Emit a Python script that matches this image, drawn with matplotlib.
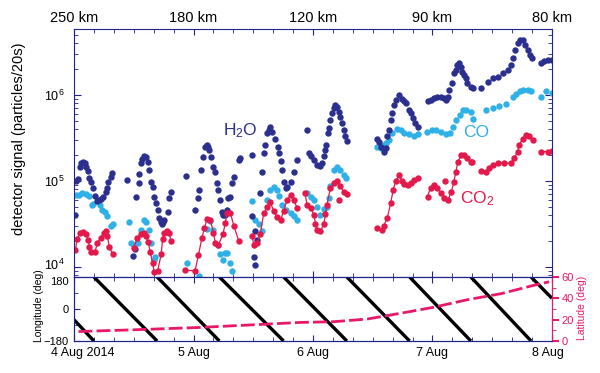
import numpy as np
import matplotlib
matplotlib.use('Agg')
import matplotlib.pyplot as plt
import matplotlib.transforms as mtransforms
from matplotlib.ticker import FixedLocator, MultipleLocator, LogLocator, NullFormatter

plt.rcParams['font.family'] = 'Liberation Sans'
plt.rcParams['mathtext.fontset'] = 'custom'
plt.rcParams['mathtext.rm'] = 'Liberation Sans'
plt.rcParams['mathtext.it'] = 'Liberation Sans'
plt.rcParams['mathtext.default'] = 'regular'

nan = np.nan

# time axis in hours after 4 Aug 2014 00:00
day_ticks = [0, 24, 48, 72, 96]
day_labels = ['4 Aug 2014', '5 Aug', '6 Aug', '7 Aug', '8 Aug']
dist_labels = ['250 km', '180 km', '120 km', '90 km', '80 km']

# H2O (particles/20s)
h2o_hours = [0.3, 0.5, 0.9, 1.2, 1.5, 1.9, 2.2, 2.5, 2.9, 3.1, 3.5, 3.8, 4.2, 4.6, 5.0, 5.5, 5.9, 6.4, 6.7, 6.9, 7.4, 7.7,
             10.7, 11.9, 12.2, 12.4, 13.0, 13.1, 13.4, 13.75, 14.1, 14.4, 14.8, 15.1, 15.4, 15.8, 16.1, 16.4, 16.8, 17.1,
             17.4, 17.6, 17.9, 18.1, 18.8, 19.1, 19.5,
             22.5, 24.4, 25.0, 25.2, 25.5, 26.0, 26.4, 26.7, 27.0, 27.2, 27.5, 28.0, 28.4, 28.7, 29.0, 29.4, 29.7, 30.0,
             30.4, 30.7, 31.0, 31.4, 31.7, 32.1, 33.1, 33.4,
             35.8, 35.8, 36.1, 36.3, 36.4, 36.7, 37.4, 37.8, 38.1, 38.4, 38.8, 39.1, 39.4, 39.8, 40.4, 40.9, 41.1, 41.5,
             41.8, 42.1, 42.5, 42.8, 43.5, 44.1, 44.7,
             46.8, 47.2, 47.5, 48.2, 48.8, 49.5, 49.8, 50.2, 50.5, 50.7, 51.0, 51.2, 51.5, 51.9, 52.2, 52.5, 52.9, 53.2,
             53.5, 53.9, 54.2, 54.5, 54.9,
             60.9, 61.2, 61.6, 62.2, 62.6, 62.9, 63.3, 63.6, 63.9, 64.3, 64.6, 65.3, 65.9, 66.3, 66.6, 67.2, 67.6, 68.1,
             68.5, 69.0,
             71.0, 71.6, 72.3, 73.0, 73.7, 74.3, 74.8, 75.2, 75.3, 75.9, 76.3, 76.7, 77.0, 77.3, 77.7, 78.0, 78.3, 78.7,
             79.0, 79.7, 80.2,
             81.7, 83.1, 84.1, 85.1, 86.1, 87.1, 87.8, 88.2, 88.6, 89.1, 89.6, 90.1, 90.6, 91.1, 91.6, 92.0, 93.8, 94.4,
             95.1, 96.0]
h2o_signal = [4.0e4, 1.0e5, 1.05e5, 1.47e5, 1.6e5, 1.65e5, 1.6e5, 1.47e5, 1.3e5, 1.07e5, 9.8e4, 8.2e4, 6.7e4, 5.8e4,
              6.0e4, 6.2e4, 6.5e4, 7.5e4, 8.2e4, 9.8e4, 1.12e5, 1.23e5,
              1.03e5, 1.34e4, 1.6e4, 6.6e4, 9.6e4, 1.2e5, 1.6e5, 1.82e5, 1.94e5, 1.9e5, 1.68e5, 1.35e5, 9.8e4, 8.6e4,
              6.6e4, 5.5e4, 4.6e4, 3.7e4, 3.3e4, 3.2e4, 3.3e4, 3.5e4, 4.4e4, 6.3e4, 7.5e4,
              1.15e5, 4.6e4, 6.3e4, 7.9e4, 1.34e5, 1.9e5, 2.5e5, 2.62e5, 2.5e5, 2.29e5, 1.9e5, 1.46e5, 1.28e5, 9.4e4,
              7.9e4, 6.0e4, 4.4e4, 4.0e4, 4.0e4, 4.6e4, 6.3e4, 6.6e4, 9.4e4, 1.1e5, 1.75e5, 1.85e5,
              2.0e5, 3.9e4, 1.3e4, 1.05e4, 2.6e4, 2.06e4, 7.2e4, 1.28e5, 2.1e5, 2.62e5, 3.6e5, 3.9e5, 4.3e5, 3.75e5,
              3.1e5, 2.5e5, 2.1e5, 1.7e5, 1.34e5, 9.8e4, 8.2e4, 8.5e4, 9.8e4, 1.28e5, 1.75e5,
              3.9e5, 2.1e5, 1.93e5, 1.75e5, 1.53e5, 1.48e5, 1.6e5, 1.93e5, 2.29e5, 2.62e5, 3.6e5, 4.1e5, 5.1e5, 6.1e5,
              7.0e5, 7.7e5, 7.3e5, 6.4e5, 5.6e5, 4.7e5, 3.9e5, 3.3e5, 2.9e5,
              3.1e5, 2.85e5, 2.5e5, 2.2e5, 2.4e5, 3.3e5, 3.9e5, 5.1e5, 6.1e5, 7.7e5, 8.75e5, 1.0e6, 9.1e5, 8.4e5, 8.0e5,
              6.7e5, 6.1e5, 5.35e5, 4.7e5, 4.3e5,
              8.4e5, 8.75e5, 9.2e5, 9.6e5, 9.6e5, 9.2e5, 8.75e5, 9.6e5, 1.14e6, 1.37e6, 1.79e6, 1.95e6, 2.23e6, 2.33e6,
              2.13e6, 1.86e6, 1.71e6, 1.56e6, 1.37e6, 1.25e6, 1.2e6,
              1.2e6, 1.43e6, 1.56e6, 1.63e6, 1.79e6, 1.95e6, 2.23e6, 2.67e6, 3.33e6, 3.99e6, 4.37e6, 4.37e6, 3.81e6,
              3.33e6, 2.92e6, 2.67e6, 2.36e6, 2.5e6, 2.55e6, 2.55e6]

# CO
co_hours = [0.4, 1.0, 1.7, 2.4, 3.0, 3.7, 3.9, 5.2, 5.7, 6.2, 6.7, 7.4, 7.9,
            11.0, 11.4, 12.1, 12.8, 13.4, 14.1, 14.4, 15.0, 15.4, 16.1, 16.3,
            22.7, 25.2, 26.7, 27.4, 28.0, 28.9, 29.3, 29.9, 30.4, 30.8, 31.4, 31.7,
            35.8, 36.4, 37.1, 37.8, 38.8, 39.4, 40.1, 40.8, 41.1, 41.8, 42.5, 43.5, 44.1, 44.7,
            46.8, 47.5, 48.2, 48.8, 49.5, 50.2, 50.8, 51.2, 51.5, 52.2, 52.9, 53.5, 54.2, 54.7,
            60.9, 61.6, 62.2, 62.6, 63.3, 63.9, 64.9, 65.6, 66.3, 67.3, 68.3, 69.0,
            70.8, 71.8, 72.8, 73.8, 74.8, 75.5, 76.2, 76.8, 77.5, 78.2, 78.8, 79.8, 80.2,
            82.7, 84.1, 85.4, 86.8, 88.1, 88.8, 89.5, 90.1, 91.1, 91.8, 93.8, 94.8, 96.0]
co_signal = [6.9e4, 6.9e4, 7.2e4, 7.0e4, 6.7e4, 5.3e4, 5.4e4, 5.2e4, 4.6e4, 4.4e4, 3.9e4, 3.0e4, 3.2e4,
             3.3e4, 1.9e4, 1.8e4, 1.9e4, 2.7e4, 3.5e4, 3.3e4, 2.7e4, 1.9e4, 1.2e4, 1.3e4,
             1.1e4, 7.8e3, 2.8e4, 3.4e4, 2.7e4, 1.8e4, 1.4e4, 1.2e4, 1.46e4, 1.46e4, 1.1e4, 9.0e3,
             5.8e4, 3.5e4, 3.15e4, 2.6e4, 6.0e4, 7.9e4, 8.6e4, 7.9e4, 6.7e4, 5.2e4, 4.6e4, 4.25e4, 3.9e4, 3.5e4,
             7.2e4, 6.6e4, 6.0e4, 5.0e4, 4.0e4, 4.7e4, 5.0e4, 6.3e4, 8.7e4, 1.34e5, 1.46e5, 1.34e5, 1.17e5, 1.07e5,
             2.5e5, 2.4e5, 2.6e5, 2.8e5, 3.0e5, 3.6e5, 4.0e5, 3.9e5, 3.6e5, 3.5e5, 3.3e5, 3.5e5,
             3.7e5, 3.9e5, 3.9e5, 3.7e5, 3.5e5, 3.6e5, 4.3e5, 5.1e5, 5.8e5, 6.7e5, 6.7e5, 6.4e5, 5.3e5,
             6.7e5, 7.1e5, 7.5e5, 7.9e5, 9.4e5, 1.02e6, 1.11e6, 1.14e6, 1.14e6, 1.11e6, 9.6e5, 1.11e6, 1.05e6]

# CO2, nan separates the connected pieces
co2_hours = [0.3, 0.6, 1.2, 1.9, 2.5, 2.9, 3.1, 3.5, 4.2, 4.7, 5.4, 6.0, 6.4, 6.7, 7.1, 7.8, nan,
             12.0, 12.7, 13.4, 14.1, 14.4, 14.9, 15.3, 15.8, 16.1, 16.8, 17.5, 17.8, 18.1, 18.7, 19.1, 19.5, nan,
             22.3, 24.3, 25.0, 25.7, 26.2, 26.7, 27.4, 28.0, 28.4, 29.0, 29.9, 30.4, 30.7, 31.4, 32.1, 33.1, nan,
             35.8, 36.1, 36.8, 37.4, 38.1, 38.8, 39.4, 40.1, 40.8, 41.5, 42.1, 42.8, 43.5, 44.1, 44.8, nan,
             46.4, 46.8, 47.5, 48.2, 48.5, 48.8, 49.5, 50.2, 50.5, 50.8, 51.5, 52.2, 52.9, 53.5, 54.2, 54.9, nan,
             53.2, nan,
             60.9, 61.9, 62.2, 62.9, 63.6, 64.1, 64.6, 65.3, 65.9, 66.3, 67.0, 67.6, 68.3, 69.0, nan,
             71.0, 71.6, 72.3, 73.0, 73.7, 74.3, 75.1, 75.8, 76.3, 76.7, 77.1, 77.8, 78.4, 79.0, 79.7, 80.0, nan,
             74.6, nan,
             81.7, 82.7, 83.4, 84.1, 85.1, 86.4, 87.8, 88.4, 89.1, 89.4, 90.1, 90.8, 91.4, 92.1, nan,
             93.8, 95.1, 96.1]
co2_signal = [1.58e4, 2.1e4, 2.5e4, 2.55e4, 2.4e4, 2.06e4, 1.7e4, 1.5e4, 1.5e4, 1.9e4, 2.2e4, 2.5e4, 2.6e4, 2.3e4,
              1.7e4, 1.4e4, nan,
              1.66e4, 2.2e4, 2.4e4, 2.5e4, 2.3e4, 1.96e4, 1.5e4, 1.1e4, 8.7e3, 9.0e3, 1.4e4, 2.1e4, 2.5e4, 2.6e4,
              2.5e4, 2.0e4, nan,
              9.2e3, 9.0e3, 1.38e4, 2.2e4, 2.84e4, 3.6e4, 3.5e4, 2.5e4, 1.9e4, 1.8e4, 2.4e4, 3.25e4, 4.3e4, 4.3e4,
              3.0e4, 2.0e4, nan,
              2.3e4, 1.8e4, 1.9e4, 2.4e4, 4.2e4, 5.0e4, 5.7e4, 4.5e4, 3.8e4, 3.5e4, 4.5e4, 6.0e4, 6.9e4, 6.0e4,
              4.9e4, nan,
              7.2e4, 5.3e4, 4.9e4, 4.0e4, 3.2e4, 2.7e4, 2.6e4, 3.2e4, 4.1e4, 5.3e4, 8.3e4, 9.5e4, 1.0e5, 8.8e4,
              7.4e4, 7.0e4, nan,
              6.0e4, nan,
              2.84e4, 2.7e4, 3.0e4, 3.7e4, 5.5e4, 7.9e4, 1.0e5, 1.17e5, 1.0e5, 9.3e4, 9.0e4, 9.5e4, 1.03e5, 1.08e5,
              nan,
              6.6e4, 8.3e4, 9.0e4, 8.3e4, 7.2e4, 6.3e4, 6.0e4, 7.5e4, 9.8e4, 1.28e5, 1.68e5, 2.0e5, 2.0e5, 1.84e5,
              1.68e5, 1.68e5, nan,
              1.0e5, nan,
              1.32e5, 1.28e5, 1.4e5, 1.53e5, 1.63e5, 1.63e5, 1.6e5, 1.84e5, 2.2e5, 2.62e5, 3.1e5, 3.43e5, 3.3e5,
              3.0e5, nan,
              2.2e5, 2.2e5, 2.25e5]

# sub-spacecraft longitude: hours where it wraps from -180 back to +180
lon_wrap_hours = [4.0, 16.7, 29.2, 42.1, 54.8, 67.4, 79.7, 91.8]
lon_first = -60
lon_last = 60

# sub-spacecraft latitude
lat_hours = [0.9, 12.0, 25.2, 38.6, 45.3, 52.2, 58.9, 65.6, 72.3, 79.0, 85.8, 92.5, 95.4]
lat_deg = [8.9, 10.5, 12.7, 15.8, 17.4, 18.1, 20.6, 26.0, 31.7, 38.7, 44.4, 52.4, 55.5]

navy = '#2b2f8e'
cyan = '#2fb0e6'
red = '#e3194b'
pink = '#e8196a'
axcol = '#1f238a'

fig = plt.figure(figsize=(6, 3.73), dpi=100)
ax = fig.add_axes([74/600, 96/373, 478/600, 248/373])
ax2 = fig.add_axes([74/600, 32/373, 478/600, 64/373])

ms = 4.6
ax.plot(co_hours, co_signal, 'o', color=cyan, ms=ms, mew=0)
ax.plot(h2o_hours, h2o_signal, 'o', color=navy, ms=ms, mew=0)
ax.plot(co2_hours, co2_signal, '-o', color=red, lw=0.9, ms=ms, mew=0)

ax.set_yscale('log')
ax.set_ylim(7.65e3, 5.85e6)
ax.set_xlim(0, 96)
ax.yaxis.set_major_locator(FixedLocator([1e4, 1e5, 1e6]))
ax.set_yticklabels(['$10^4$', '$10^5$', '$10^6$'])
ax.yaxis.set_minor_locator(LogLocator(base=10, subs=np.arange(2, 10)))
ax.yaxis.set_minor_formatter(NullFormatter())
ax.xaxis.set_major_locator(FixedLocator(day_ticks))
ax.xaxis.set_minor_locator(MultipleLocator(4))
ax.set_xticklabels(dist_labels)
ax.tick_params(axis='x', which='both', top=True, bottom=True, labeltop=True, labelbottom=False,
               direction='in', color=axcol)
ax.tick_params(axis='y', which='both', left=True, right=True, direction='in', color=axcol)
ax.tick_params(axis='x', which='major', length=4, labelsize=10.5, pad=3)
ax.tick_params(axis='x', which='minor', length=3)
ax.tick_params(axis='y', which='major', length=5, labelsize=9, pad=7)
ax.tick_params(axis='y', which='minor', length=3)
for s in ax.spines.values():
    s.set_color(axcol)
# nudge 10^4 up a little so it clears the longitude labels
up = mtransforms.ScaledTranslation(0, 2/72, fig.dpi_scale_trans)
lbl = ax.get_yticklabels()[0]
lbl.set_transform(lbl.get_transform() + up)

ax.text(33.4, 3.9e5, 'H$_2$O', color=navy, fontsize=12.5, ha='center', va='center')
ax.text(80.7, 3.7e5, 'CO', color=cyan, fontsize=12.5, ha='center', va='center')
ax.text(77.6, 6.3e4, 'CO$_2$', color=red, fontsize=12.5, ha='left', va='center')

fig.text(19/600, 1 - 139/373, 'detector signal (particles/20s)', rotation=90,
         ha='center', va='center', fontsize=10.5)

# longitude sawtooth
ax2.plot([0, lon_wrap_hours[0]], [lon_first, -180], color='black', lw=2.4, solid_capstyle='butt')
for i in range(len(lon_wrap_hours) - 1):
    ax2.plot([lon_wrap_hours[i], lon_wrap_hours[i + 1]], [180, -180], color='black', lw=2.4,
             solid_capstyle='butt')
ax2.plot([lon_wrap_hours[-1], 96], [180, lon_last], color='black', lw=2.4, solid_capstyle='butt')
ax2.set_xlim(0, 96)
ax2.set_ylim(-180, 180)
ax2.set_yticks([-180, 0, 180])
ax2.yaxis.set_minor_locator(MultipleLocator(90))
ax2.xaxis.set_major_locator(FixedLocator(day_ticks))
ax2.xaxis.set_minor_locator(MultipleLocator(4))
ax2.set_xticklabels(day_labels)
ax2.tick_params(axis='x', which='both', direction='in', color=axcol, top=True)
ax2.tick_params(axis='x', which='major', length=4, labelsize=9, pad=4)
ax2.tick_params(axis='x', which='minor', length=3)
ax2.tick_params(axis='y', which='both', direction='in', color=axcol, left=True, right=False)
ax2.tick_params(axis='y', which='major', length=4, labelsize=8, pad=4)
ax2.tick_params(axis='y', which='minor', length=3)
for s in ax2.spines.values():
    s.set_color(axcol)
# shift the outer labels as in the original layout
down = mtransforms.ScaledTranslation(0, -3/72, fig.dpi_scale_trans)
lbl = ax2.get_yticklabels()[2]
lbl.set_transform(lbl.get_transform() + down)
right = mtransforms.ScaledTranslation(6/72, 0, fig.dpi_scale_trans)
lbl = ax2.get_xticklabels()[0]
lbl.set_transform(lbl.get_transform() + right)
left = mtransforms.ScaledTranslation(-3/72, 0, fig.dpi_scale_trans)
lbl = ax2.get_xticklabels()[-1]
lbl.set_transform(lbl.get_transform() + left)
fig.text(39/600, 1 - 306/373, 'Longitude (deg)', rotation=90, ha='center', va='center', fontsize=7.5)

ax3 = ax2.twinx()
ax3.plot(lat_hours, lat_deg, color=pink, lw=2.0, dashes=(5, 1.5))
ax3.set_ylim(0, 60)
ax3.set_yticks([0, 20, 40, 60])
ax3.yaxis.set_minor_locator(MultipleLocator(10))
ax3.tick_params(axis='y', which='both', direction='out', color=pink, labelcolor=pink)
ax3.tick_params(axis='y', which='major', length=5, width=1.5, labelsize=8, pad=2)
ax3.tick_params(axis='y', which='minor', length=3)
ax3.spines['right'].set_color(pink)
ax3.spines['left'].set_color(axcol)
ax3.spines['top'].set_color(axcol)
ax3.spines['bottom'].set_color(axcol)
fig.text(582/600, 1 - 308/373, 'Latitude (deg)', rotation=90, ha='center', va='center',
         fontsize=7.5, color=pink)

fig.savefig('out.png', dpi=100)
